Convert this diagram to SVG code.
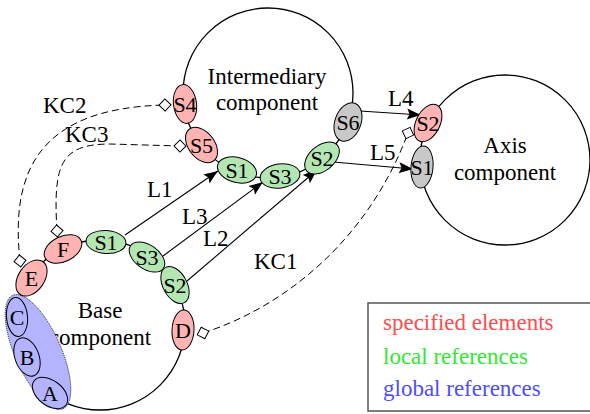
<svg xmlns="http://www.w3.org/2000/svg" width="590" height="414" viewBox="0 0 590 414">
<style>
text{font-family:"Liberation Serif","Times New Roman",serif;fill:#000}
.big{font-size:23px;text-anchor:middle}
.lbl{font-size:23px}
.nl{font-size:22px;text-anchor:middle}
.comp{fill:none;stroke:#000;stroke-width:1.3}
.red{fill:#ffb3b3;stroke:#000;stroke-width:1}
.grn{fill:#b3e6b3;stroke:#000;stroke-width:1}
.gry{fill:#c8c8c8;stroke:#000;stroke-width:1}
.blu{fill:#b3b3ff;stroke:#000;stroke-width:1}
.arr{fill:none;stroke:#000;stroke-width:1.1;marker-end:url(#ah)}
.kc{fill:none;stroke:#000;stroke-width:1;stroke-dasharray:7,4;marker-start:url(#dm);marker-end:url(#dm)}
</style>
<defs>
<marker id="ah" markerUnits="userSpaceOnUse" markerWidth="17" markerHeight="13" refX="15" refY="6.5" orient="auto" overflow="visible">
<path d="M15,6.5 C11,5 6,3 1,1 L3.5,6.5 L1,12 C6,10 11,8 15,6.5 Z" fill="#000"/>
</marker>
<marker id="dm" markerUnits="userSpaceOnUse" markerWidth="14" markerHeight="14" refX="7" refY="7" orient="auto" overflow="visible">
<path d="M1,7 L7,1 L13,7 L7,13 Z" fill="#fff" stroke="#000" stroke-width="1"/>
</marker>
</defs>

<g id="components">
<circle class="comp" cx="268" cy="93" r="85"/>
<circle class="comp" cx="100" cy="325" r="85"/>
<circle class="comp" cx="505" cy="160" r="85"/>
<text class="big" x="267" y="84">Intermediary</text>
<text class="big" x="267" y="110">component</text>
<text class="big" x="100" y="318">Base</text>
<text class="big" x="100" y="345">component</text>
<text class="big" x="505" y="153">Axis</text>
<text class="big" x="505" y="180">component</text>
</g>

<g id="connectors">
<path class="arr" d="M125,235 L218,171"/>
<path class="arr" d="M163,256 L263,182"/>
<path class="arr" d="M187,281 L317,170"/>
<path class="arr" d="M360,111 L421,115"/>
<path class="arr" d="M333,162 L413,169"/>
<path class="kc" d="M20,261 C10,170 40,108 165,105"/>
<path class="kc" d="M57,231 C53,165 60,144 110,144 L180,146"/>
<path class="kc" d="M203,333 C290,305 370,235 408,133"/>
<text class="lbl" x="43" y="113">KC2</text>
<text class="lbl" x="65" y="142">KC3</text>
<text class="lbl" x="147" y="197">L1</text>
<text class="lbl" x="182" y="224">L3</text>
<text class="lbl" x="203" y="246">L2</text>
<text class="lbl" x="254" y="269">KC1</text>
<text class="lbl" x="388" y="106">L4</text>
<text class="lbl" x="370" y="160">L5</text>
</g>

<g id="global-refs">
<ellipse cx="38" cy="352" rx="62" ry="23" transform="rotate(66 38 352)" fill="#b3b3ff" stroke="#000" stroke-width="0.8" stroke-dasharray="1,1"/>
</g>

<g id="node-int-S4"><ellipse class="red" cx="185" cy="104" rx="19.5" ry="11.5" transform="rotate(82.5 185 104)"/><text class="nl" x="185" y="112">S4</text></g>
<g id="node-int-S5"><ellipse class="red" cx="201.5" cy="145" rx="20" ry="13" transform="rotate(52 201.5 145)"/><text class="nl" x="201.5" y="153">S5</text></g>
<g id="node-int-S1"><ellipse class="grn" cx="237" cy="170" rx="20" ry="12.5" transform="rotate(15 237 170)"/><text class="nl" x="237" y="178">S1</text></g>
<g id="node-int-S3"><ellipse class="grn" cx="280" cy="176" rx="20" ry="12" transform="rotate(-8 280 176)"/><text class="nl" x="280" y="184">S3</text></g>
<g id="node-int-S2"><ellipse class="grn" cx="322" cy="158" rx="20" ry="12.5" transform="rotate(-40 322 158)"/><text class="nl" x="322" y="166">S2</text></g>
<g id="node-int-S6"><ellipse class="gry" cx="348" cy="122" rx="20" ry="13" transform="rotate(-70 348 122)"/><text class="nl" x="348" y="130">S6</text></g>

<g id="node-base-E"><ellipse class="red" cx="31.5" cy="278" rx="20" ry="13" transform="rotate(-55.5 31.5 278)"/><text class="nl" x="31.5" y="286">E</text></g>
<g id="node-base-F"><ellipse class="red" cx="63" cy="249" rx="20" ry="12.5" transform="rotate(-26 63 249)"/><text class="nl" x="63" y="257">F</text></g>
<g id="node-base-S1"><ellipse class="grn" cx="106" cy="242" rx="20" ry="11.5" transform="rotate(4 106 242)"/><text class="nl" x="106" y="250">S1</text></g>
<g id="node-base-S3"><ellipse class="grn" cx="147" cy="257" rx="20" ry="12" transform="rotate(35 147 257)"/><text class="nl" x="147" y="265">S3</text></g>
<g id="node-base-S2"><ellipse class="grn" cx="175" cy="285" rx="20" ry="12" transform="rotate(62 175 285)"/><text class="nl" x="175" y="293">S2</text></g>
<g id="node-base-D"><ellipse class="red" cx="183" cy="330" rx="20" ry="11" transform="rotate(93 183 330)"/><text class="nl" x="183" y="338">D</text></g>
<g id="node-base-C"><ellipse class="blu" cx="17" cy="317" rx="19.5" ry="10.5" transform="rotate(85 17 317)"/><text class="nl" x="17" y="325">C</text></g>
<g id="node-base-B"><ellipse class="blu" cx="27" cy="357" rx="20" ry="12" transform="rotate(70 27 357)"/><text class="nl" x="27" y="365">B</text></g>
<g id="node-base-A"><ellipse class="blu" cx="50" cy="393" rx="20" ry="12.5" transform="rotate(37 50 393)"/><text class="nl" x="50" y="401">A</text></g>

<g id="node-axis-S2"><ellipse class="red" cx="428" cy="123" rx="20" ry="12" transform="rotate(-64 428 123)"/><text class="nl" x="428" y="131">S2</text></g>
<g id="node-axis-S1"><ellipse class="gry" cx="422" cy="167" rx="21" ry="11" transform="rotate(95 422 167)"/><text class="nl" x="422" y="175">S1</text></g>

<g id="legend">
<rect x="368" y="303" width="230" height="108" fill="#fff" stroke="#555" stroke-width="1.5"/>
<text class="lbl" x="383" y="330" style="fill:#ff4d4d">specified elements</text>
<text class="lbl" x="383" y="364" style="fill:#33e633">local references</text>
<text class="lbl" x="383" y="396" style="fill:#4d4dff">global references</text>
</g>
</svg>
